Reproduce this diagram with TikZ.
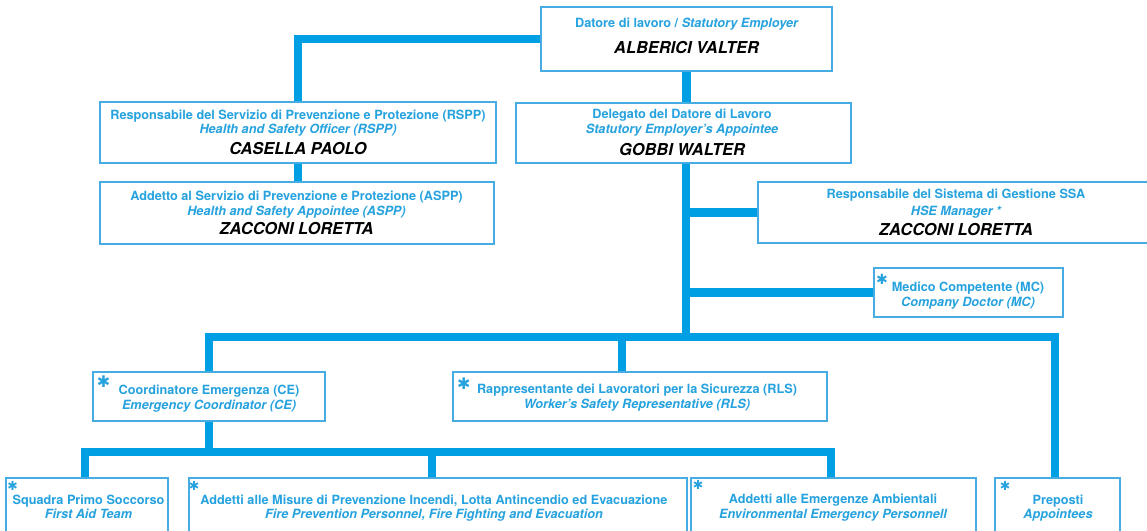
\documentclass[tikz,border=0pt]{standalone}
\usepackage{fontspec}
\setmainfont{TeX Gyre Heros}
\newfontfamily\astfont{DejaVu Sans}
\definecolor{conn}{RGB}{0,158,226}
\definecolor{txtb}{RGB}{38,162,222}
\definecolor{bord}{RGB}{70,172,226}
\begin{document}
\begin{tikzpicture}[x=1pt,y=-1pt,
  box/.style={draw=bord, line width=1.4pt, fill=white, inner sep=0pt, rectangle},
  wire/.style={draw=conn, line width=8.5pt, line join=miter},
  t1/.style={anchor=base, inner sep=0pt, text=txtb, font=\fontsize{12.7}{15}\selectfont\bfseries},
  t2/.style={anchor=base, inner sep=0pt, text=txtb, font=\fontsize{12.7}{15}\selectfont\bfseries\itshape},
  nm/.style={anchor=base, inner sep=0pt, text=black, font=\fontsize{16.4}{19}\selectfont\bfseries\itshape},
  b1/.style={anchor=base, inner sep=0pt, text=txtb, font=\fontsize{12.7}{15}\selectfont\bfseries},
  b2/.style={anchor=base, inner sep=0pt, text=txtb, font=\fontsize{12.7}{15}\selectfont\bfseries\itshape},
  astL/.style={inner sep=0pt, text=txtb, font=\astfont\fontsize{16}{16}\selectfont},
  astS/.style={inner sep=0pt, text=txtb, font=\astfont\fontsize{12.5}{12.5}\selectfont},
]
\useasboundingbox (0,0) rectangle (1147,530);
\fill[white] (0,0) rectangle (1147,530);

% boxes
\node[box, minimum width=291pt, minimum height=64pt] (top) at (686.5,39) {};
\node[box, minimum width=396pt, minimum height=61pt] (rspp) at (298,132.5) {};
\node[box, minimum width=394pt, minimum height=62pt] (aspp) at (297,213) {};
\node[box, minimum width=335pt, minimum height=60pt] (deleg) at (683.5,133) {};
\node[box, minimum width=396pt, minimum height=61pt] (hse) at (956,212.5) {};
\node[box, minimum width=189pt, minimum height=49pt] (mc) at (968.5,292.5) {};
\node[box, minimum width=232pt, minimum height=49pt] (ce) at (209,396.5) {};
\node[box, minimum width=374pt, minimum height=49pt] (rls) at (640,396.5) {};
\node[box, minimum width=162pt, minimum height=80pt] (squad) at (87,518) {};
\node[box, minimum width=498pt, minimum height=80pt] (fire) at (438,518) {};
\node[box, minimum width=285pt, minimum height=80pt] (env) at (833.5,518) {};
\node[box, minimum width=125pt, minimum height=80pt] (prep) at (1057.5,518) {};

% connector coordinates
\coordinate (sp) at (686,337);
\coordinate (busR) at (1055,337);
\coordinate (rlsdrop) at (622,337);
\coordinate (lbL) at (85,452);
\coordinate (lbR) at (831,452);
\coordinate (firedrop) at (432,452);

% connectors
\draw[wire] (top.west) -| (rspp.north);
\draw[wire] (rspp.south) -- (aspp.north -| rspp.south);
\draw[wire] (top.south) -- (top.south |- deleg.north);
\draw[wire] (sp |- deleg.south) -- (sp);
\draw[wire] (sp |- hse.west) -- (hse.west);
\draw[wire] (sp |- mc.west) -- (mc.west);
\draw[wire] (ce.north) -- (ce.north |- sp) -- (busR) -- (busR |- prep.north);
\draw[wire] (rlsdrop) -- (rlsdrop |- rls.north);
\draw[wire] (ce.south) -- (ce.south |- lbL);
\draw[wire] (lbL |- squad.north) -- (lbL) -- (lbR) -- (lbR |- env.north);
\draw[wire] (firedrop) -- (firedrop |- fire.north);

% texts
\node[t1] (topA) at (687,27.3) {Datore di lavoro / \textit{Statutory Employer}};
\node[nm] (topN) at (686.5,53.3) {ALBERICI VALTER};

\node[t1] (rsppA) at (298,119.3) {Responsabile del Servizio di Prevenzione e Protezione (RSPP)};
\node[t2] (rsppB) at (298,133.3) {Health and Safety Officer (RSPP)};
\node[nm] (rsppN) at (298,154) {CASELLA PAOLO};

\node[t1] (asppA) at (296.5,200) {Addetto al Servizio di Prevenzione e Protezione (ASPP)};
\node[t2] (asppB) at (296.5,215) {Health and Safety Appointee (ASPP)};
\node[nm] (asppN) at (296.5,234) {ZACCONI LORETTA};

\node[t1] (delA) at (682,118.3) {Delegato del Datore di Lavoro};
\node[t2] (delB) at (682,133.3) {Statutory Employer’s Appointee};
\node[nm] (delN) at (682,155) {GOBBI WALTER};

\node[t1] (hseA) at (956,198.3) {Responsabile del Sistema di Gestione SSA};
\node[t2] (hseB) at (956,215) {HSE Manager *};
\node[nm] (hseN) at (956,235) {ZACCONI LORETTA};

\node[t1] (mcA) at (968,291.7) {Medico Competente (MC)};
\node[t2] (mcB) at (968,306.7) {Company Doctor (MC)};

\node[t1] (ceA) at (209,394) {Coordinatore Emergenza (CE)};
\node[t2] (ceB) at (209,409.3) {Emergency Coordinator (CE)};

\node[t1] (rlsA) at (637,393.3) {Rappresentante dei Lavoratori per la Sicurezza (RLS)};
\node[t2] (rlsB) at (637,408.3) {Worker’s Safety Representative (RLS)};

\node[b1] (squA) at (88.5,504) {Squadra Primo Soccorso};
\node[b2] (squB) at (88.5,518.5) {First Aid Team};

\node[b1] (fireA) at (434,504) {Addetti alle Misure di Prevenzione Incendi, Lotta Antincendio ed Evacuazione};
\node[b2] (fireB) at (434,518.5) {Fire Prevention Personnel, Fire Fighting and Evacuation};

\node[b1] (envA) at (833,503.3) {Addetti alle Emergenze Ambientali};
\node[b2] (envB) at (833,518.3) {Environmental Emergency Personnell};

\node[b1] (prepA) at (1058,504) {Preposti};
\node[b2] (prepB) at (1058,518.5) {Appointees};

% asterisks
\node[astL] (ceS) at (103.7,381.7) {✱};
\node[astL] (rlsS) at (463.7,384) {✱};
\node[astS, font=\astfont\fontsize{14}{14}\selectfont] (mcS) at (882,279) {✱};
\node[astS] (squS) at (12.5,486) {✱};
\node[astS] (fireS) at (194,486) {✱};
\node[astS] (envS) at (698,485) {✱};
\node[astS] (prepS) at (1005,486) {✱};
\end{tikzpicture}
\end{document}
